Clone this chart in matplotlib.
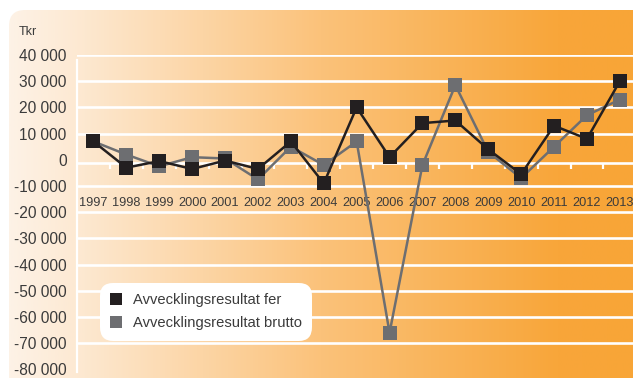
import numpy as np
import matplotlib
matplotlib.use("Agg")
import matplotlib.pyplot as plt
from matplotlib.patches import FancyBboxPatch
from matplotlib.lines import Line2D
from matplotlib.colors import LinearSegmentedColormap

# ---- data ----
years = ["1997", "1998", "1999", "2000", "2001", "2002", "2003", "2004", "2005",
         "2006", "2007", "2008", "2009", "2010", "2011", "2012", "2013"]
fer = [7000, -3000, -500, -3500, -300, -3500, 7000, -9000, 20000,
       1000, 14000, 15000, 4000, -5500, 13000, 8000, 30000]
brutto = [7000, 2000, -2500, 1000, 500, -7500, 5000, -2000, 7000,
          -66000, -2000, 28500, 3000, -7000, 5000, 17000, 23000]
yticks = list(range(40000, -80001, -10000))
series_names = ["Avvecklingsresultat fer", "Avvecklingsresultat brutto"]
unit_label = "Tkr"

W, H = 633, 378
DPI = 100
fig = plt.figure(figsize=(W / DPI, H / DPI), dpi=DPI)
fig.patch.set_facecolor("white")

FONT = ["Liberation Sans", "DejaVu Sans"]
TXT = "#3b3b3b"
BLACK = "#231f20"
GREY = "#6d6e71"

# ---- background panel with gradient ----
bg = fig.add_axes([0, 0, 1, 1])
bg.set_xlim(0, W)
bg.set_ylim(H, 0)
bg.axis("off")
cmap = LinearSegmentedColormap.from_list(
    "bg", [(0.0, "#fdf2e6"), (0.12, "#fde8d0"), (0.5, "#fbc27a"),
           (0.88, "#f8a63a"), (1.0, "#f8a537")])
grad = np.linspace(0, 1, 512).reshape(1, -1)
panel = FancyBboxPatch((9, 10), W + 30, H + 30,
                       boxstyle="round,pad=0,rounding_size=16",
                       facecolor="none", edgecolor="none", transform=bg.transData)
bg.add_patch(panel)
im = bg.imshow(grad, cmap=cmap, aspect="auto", extent=[9, W, H + 40, 10],
               interpolation="bilinear")
im.set_clip_path(panel)
bg.text(19, 32, unit_label, fontsize=9, color=TXT, family=FONT,
        ha="left", va="center")

# ---- main axes ----
bin_w = 32.9
left_px, top_px = 77, 55
px_per_10k = 26.2
bottom_px = top_px + 12 * px_per_10k
ax = fig.add_axes([left_px / W, (H - bottom_px) / H,
                   (W - left_px) / W, (bottom_px - top_px) / H])
ax.set_facecolor("none")
ax.set_xlim(-0.5, -0.5 + (W - left_px) / bin_w)
ax.set_ylim(-80000, 40000)

x = np.arange(len(years))
for v in yticks:
    if v != 0 and v > -80000:
        ax.axhline(v, color="white", lw=1.9, zorder=1)

ax.plot(x, brutto, color=GREY, lw=1.8, marker="s", markersize=10.5,
        markeredgewidth=0, zorder=3)
ax.plot(x, fer, color=BLACK, lw=1.8, marker="s", markersize=10.5,
        markeredgewidth=0, zorder=4)

for s in ["top", "right"]:
    ax.spines[s].set_visible(False)
ax.spines["left"].set_color("white")
ax.spines["left"].set_linewidth(1.6)
ax.spines["left"].set_bounds(-81000, 38000)
ax.spines["bottom"].set_position(("data", -1300))
ax.spines["bottom"].set_color("white")
ax.spines["bottom"].set_linewidth(1.9)

ax.set_yticks(yticks)
ax.set_yticklabels([f"{v:,}".replace(",", " ") for v in yticks],
                   fontsize=11.2, color=TXT, family=FONT)
ax.tick_params(axis="y", length=0, pad=7.5)

ax.set_xticks(x)
ax.set_xticklabels(years, fontsize=9.2, color=TXT, family=FONT)
ax.tick_params(axis="x", which="major", length=0, pad=24.5)
ax.set_xticks(x[:-1] + 0.5, minor=True)
ax.tick_params(axis="x", which="minor", length=4.5, width=1.6,
               color="white", direction="out")

# ---- legend ----
handles = [Line2D([], [], ls="none", marker="s", markersize=8,
                  markeredgewidth=0, color=BLACK),
           Line2D([], [], ls="none", marker="s", markersize=8,
                  markeredgewidth=0, color=GREY)]
leg = ax.legend(handles, series_names, loc="upper left",
                bbox_to_anchor=(100 / W, 1 - 283 / H),
                bbox_transform=fig.transFigure, borderaxespad=0,
                frameon=True, fancybox=True, facecolor="white",
                edgecolor="none", framealpha=1,
                prop={"family": FONT, "size": 10.6},
                handlelength=0.8, handletextpad=0.75, labelspacing=0.62,
                borderpad=0.7)
leg.get_frame().set_boxstyle("round,pad=0,rounding_size=0.9")
for t in leg.get_texts():
    t.set_color(TXT)

fig.savefig("out.png", dpi=DPI, facecolor=fig.get_facecolor())
